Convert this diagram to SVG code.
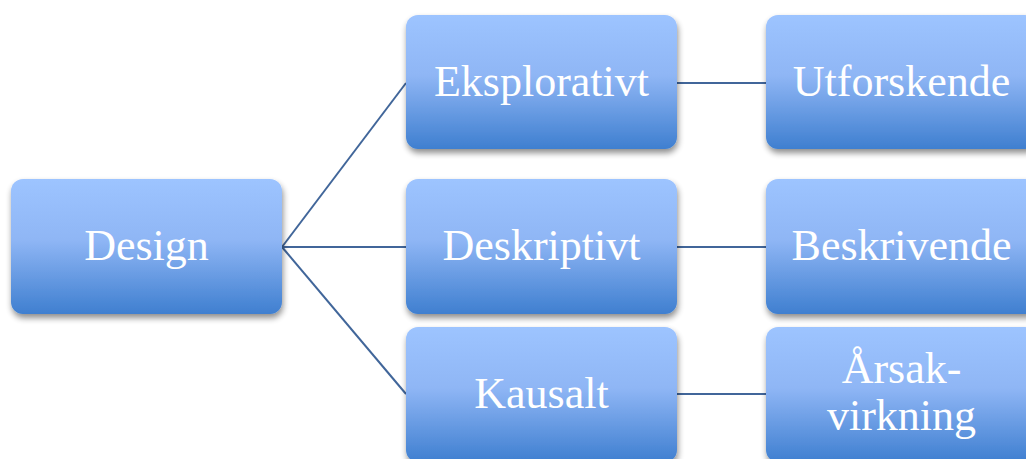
<svg xmlns="http://www.w3.org/2000/svg" width="1026" height="459" viewBox="0 0 1026 459">
<defs>
<linearGradient id="g" x1="0" y1="0" x2="0" y2="1">
<stop offset="0" stop-color="#9dc4ff"/>
<stop offset="0.45" stop-color="#8fb6f5"/>
<stop offset="1" stop-color="#3f7fd0"/>
</linearGradient>
<filter id="sh" x="-10%" y="-10%" width="120%" height="130%">
<feGaussianBlur in="SourceAlpha" stdDeviation="3"/>
<feOffset dx="1" dy="4" result="b"/>
<feComponentTransfer><feFuncA type="linear" slope="0.45"/></feComponentTransfer>
<feMerge><feMergeNode/><feMergeNode in="SourceGraphic"/></feMerge>
</filter>
</defs>
<style>
.box{fill:url(#g);filter:url(#sh)}
.t{fill:#ffffff;font-family:"Liberation Serif","DejaVu Serif",serif;font-size:44px;text-anchor:middle}
.c{stroke:#41669a;stroke-width:2;fill:none}
</style>
<g id="connectors">
<line class="c" x1="282" y1="247" x2="406" y2="83"/>
<line class="c" x1="282" y1="247" x2="406" y2="247"/>
<line class="c" x1="282" y1="247" x2="406" y2="394"/>
<line class="c" x1="677" y1="83" x2="766" y2="83"/>
<line class="c" x1="677" y1="247" x2="766" y2="247"/>
<line class="c" x1="677" y1="394" x2="766" y2="394"/>
</g>
<g id="design"><rect class="box" x="11" y="179" width="271" height="135" rx="12"/><text class="t" x="146.5" y="260">Design</text></g>
<g id="eksplorativt"><rect class="box" x="406" y="15" width="271" height="134" rx="12"/><text class="t" x="541.5" y="96">Eksplorativt</text></g>
<g id="deskriptivt"><rect class="box" x="406" y="179" width="271" height="135" rx="12"/><text class="t" x="541.5" y="260">Deskriptivt</text></g>
<g id="kausalt"><rect class="box" x="406" y="327" width="271" height="135" rx="12"/><text class="t" x="541.5" y="408">Kausalt</text></g>
<g id="utforskende"><rect class="box" x="766" y="15" width="271" height="134" rx="12"/><text class="t" x="901.5" y="96">Utforskende</text></g>
<g id="beskrivende"><rect class="box" x="766" y="179" width="271" height="135" rx="12"/><text class="t" x="901.5" y="260">Beskrivende</text></g>
<g id="arsak"><rect class="box" x="766" y="327" width="271" height="135" rx="12"/><text class="t" x="901.5" y="383">Årsak-</text><text class="t" x="901.5" y="430">virkning</text></g>
</svg>
